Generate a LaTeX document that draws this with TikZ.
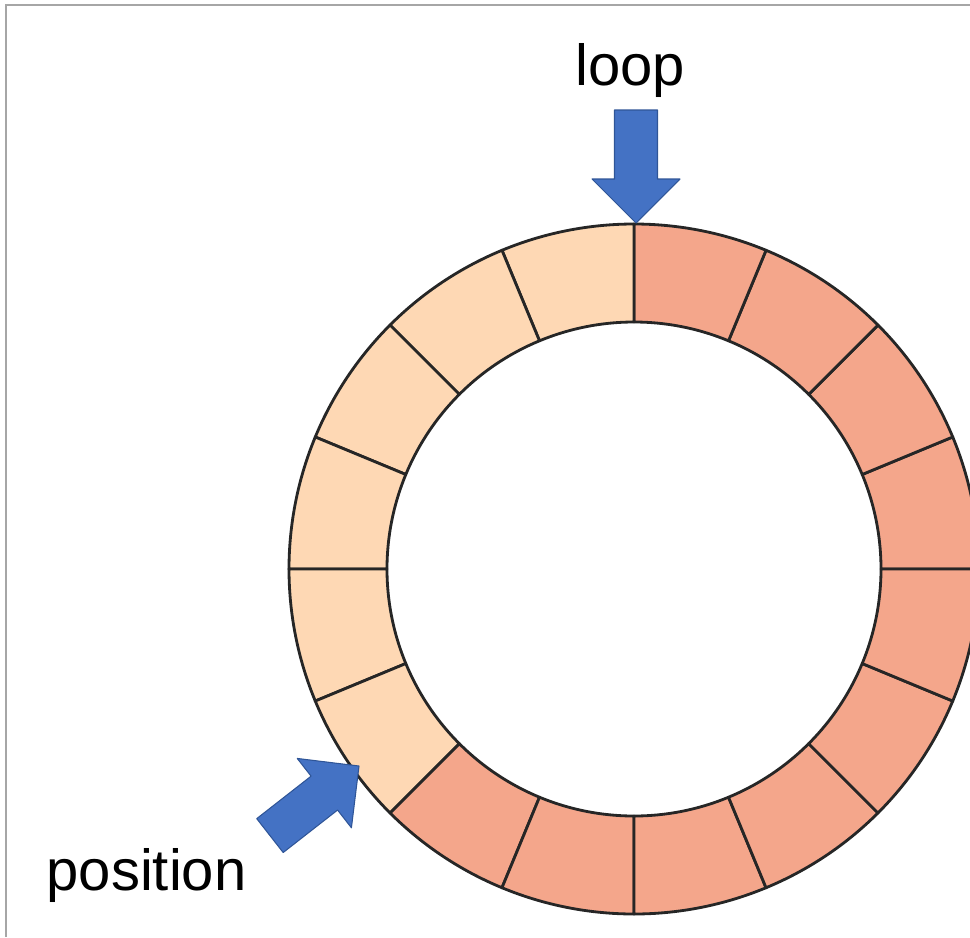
\documentclass[tikz,border=0pt]{standalone}
\usepackage{fontspec}
\setmainfont{Liberation Sans}
\usetikzlibrary{positioning}
\definecolor{lightseg}{HTML}{FED8B4}
\definecolor{darkseg}{HTML}{F4A68B}
\definecolor{blockblue}{HTML}{4472C4}
\definecolor{blockedge}{HTML}{2F5597}
\definecolor{framegrey}{HTML}{A6A6A6}
\definecolor{ringline}{HTML}{262626}

\begin{document}
\begin{tikzpicture}[
  x=0.02cm, y=0.02cm,
  seg/.style={draw=ringline, line width=1.6pt, line join=round},
  lbl/.style={font=\fontsize{33}{40}\selectfont, anchor=base, inner sep=0pt},
  blockarrow/.pic={
    \filldraw[fill=blockblue, draw=blockedge, line width=0.6pt, line join=round]
      (0,0) -- (-44,44) -- (-44,21.5) -- (-113,21.5) -- (-113,-21.5)
      -- (-44,-21.5) -- (-44,-44) -- cycle;
  },
]
  \clip (0,0) rectangle (970,-937);
  % frame
  \draw[framegrey, line width=1.3pt] (6,-937) -- (6,-5) -- (970,-5);

  % ring of 16 slots
  \begin{scope}[shift={(634,-569)}]
    \def\rout{345}
    \def\rin{247}
    \foreach \k in {0,...,15}{
      \pgfmathsetmacro{\a}{\k*22.5}
      \pgfmathsetmacro{\b}{\a+22.5}
      \ifnum\k>3 \ifnum\k<10 \def\segcol{lightseg}\else\def\segcol{darkseg}\fi
      \else\def\segcol{darkseg}\fi
      \filldraw[seg, fill=\segcol] (\a:\rout)
        arc[start angle=\a, end angle=\b, radius=\rout]
        -- (\b:\rin) arc[start angle=\b, end angle=\a, radius=\rin] -- cycle;
    }
  \end{scope}

  % arrows
  \pic[rotate=-90] at (636,-223) {blockarrow};
  \pic[rotate=38] at (359,-766) {blockarrow};

  \node[lbl] (loop) at (630,-85) {loop};
  \node[lbl] (position) at (146.5,-890) {position};
\end{tikzpicture}
\end{document}
